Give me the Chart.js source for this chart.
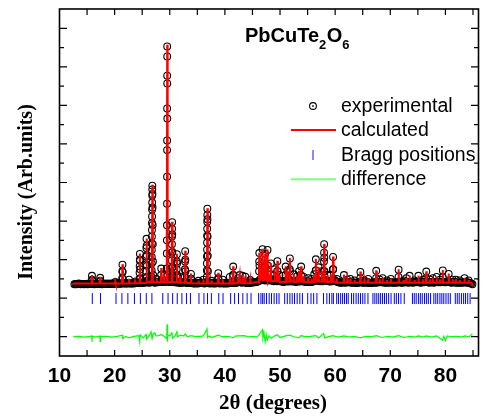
<!DOCTYPE html>
<html lang="en">
<head>
<meta charset="UTF-8">
<title>PbCuTe2O6 Rietveld</title>
<script src="https://cdn.jsdelivr.net/npm/chart.js"></script>
<style>
  html, body { margin: 0; padding: 0; background: #fff; }
</style>
</head>
<body>
<canvas id="xrd" width="485" height="416"></canvas>
<script>
// measured background points, regular 2theta grid
const obsStart = 12.7, obsStep = 0.2;
const obsBackground = [
  1.36,1.37,1.36,1.37,1.38,1.37,1.36,1.37,1.37,1.36,
  1.37,1.37,1.36,1.38,1.37,1.37,1.38,1.37,1.36,1.37,
  1.37,1.38,1.37,1.37,1.38,1.36,1.37,1.38,1.37,1.37,
  1.38,1.37,1.37,1.38,1.37,1.38,1.37,1.38,1.39,1.38,
  1.38,1.37,1.38,1.39,1.38,1.40,1.38,1.38,1.39,1.38,
  1.39,1.38,1.38,1.39,1.38,1.39,1.40,1.39,1.40,1.41,
  1.41,1.39,1.40,1.41,1.40,1.42,1.45,1.41,1.40,1.41,
  1.43,1.44,1.41,1.40,1.41,1.42,1.41,1.42,1.43,1.44,
  1.42,1.43,1.42,1.44,1.46,1.43,1.42,1.42,1.43,1.46,
  1.42,1.41,1.41,1.42,1.40,1.41,1.40,1.40,1.41,1.40,
  1.42,1.41,1.40,1.39,1.40,1.41,1.39,1.39,1.38,1.39,
  1.38,1.39,1.38,1.39,1.40,1.39,1.40,1.39,1.38,1.39,
  1.42,1.41,1.39,1.38,1.39,1.40,1.38,1.39,1.38,1.39,
  1.41,1.39,1.38,1.39,1.40,1.38,1.39,1.38,1.39,1.38,
  1.39,1.40,1.39,1.41,1.40,1.39,1.40,1.40,1.41,1.42,
  1.43,1.41,1.40,1.42,1.41,1.42,1.40,1.39,1.40,1.40,
  1.41,1.40,1.41,1.42,1.41,1.42,1.43,1.44,1.47,1.49,
  1.48,1.50,1.47,1.46,1.50,1.48,1.46,1.49,1.50,1.46,
  1.45,1.44,1.47,1.45,1.44,1.47,1.46,1.44,1.43,1.43,
  1.42,1.44,1.45,1.44,1.43,1.46,1.45,1.43,1.44,1.45,
  1.43,1.42,1.44,1.45,1.43,1.44,1.46,1.44,1.43,1.44,
  1.42,1.43,1.44,1.42,1.43,1.42,1.43,1.44,1.45,1.47,
  1.46,1.45,1.46,1.44,1.45,1.44,1.47,1.48,1.45,1.46,
  1.45,1.44,1.43,1.45,1.44,1.45,1.47,1.44,1.43,1.42,
  1.41,1.40,1.41,1.40,1.42,1.41,1.40,1.41,1.42,1.41,
  1.42,1.40,1.41,1.40,1.41,1.40,1.39,1.40,1.41,1.43,
  1.42,1.40,1.41,1.40,1.41,1.40,1.42,1.40,1.39,1.40,
  1.40,1.41,1.40,1.42,1.40,1.41,1.42,1.41,1.42,1.41,
  1.42,1.40,1.41,1.40,1.41,1.40,1.41,1.42,1.40,1.41,
  1.40,1.41,1.40,1.41,1.43,1.42,1.40,1.41,1.40,1.42,
  1.41,1.42,1.41,1.40,1.42,1.41,1.42,1.40,1.41,1.42,
  1.41,1.42,1.43,1.41,1.40,1.41,1.42,1.41,1.42,1.44,
  1.42,1.41,1.40,1.42,1.41,1.42,1.40,1.41,1.42,1.43,
  1.41,1.42,1.41,1.42,1.43,1.41,1.42,1.41,1.42,1.43,
  1.42,1.41,1.40,1.41,1.42,1.41,1.40,1.41,1.40,1.41,
  1.40,1.41,1.40,1.41,1.42,1.41,1.40,1.41,1.40,1.39,
  1.38,1.36
];

// measured points on the Bragg peaks [2theta, intensity]
const obsPeaks = [
  [15.87,1.47],[15.89,1.58],[15.92,1.47],
  [17.36,1.45],[17.38,1.53],[17.41,1.44],
  [20.12,1.42],
  [21.38,1.52],[21.4,1.7],[21.42,1.87],[21.45,1.68],[21.48,1.5],
  [22.62,1.48],[23.7,1.43],
  [24.5,1.5],[24.52,1.66],[24.54,1.83],[24.56,2.0],[24.58,2.15],[24.6,1.97],[24.63,1.75],[24.66,1.52],
  [25.68,1.52],[25.7,1.7],[25.72,1.88],[25.74,2.08],[25.76,2.3],[25.78,2.54],[25.8,2.36],[25.82,2.12],[25.85,1.84],[25.88,1.56],
  [26.7,1.55],[26.71,1.72],[26.72,1.9],[26.73,2.07],[26.74,2.25],[26.75,2.42],[26.76,2.6],[26.77,2.77],[26.78,2.95],
  [26.79,3.12],[26.8,3.3],[26.81,3.48],[26.82,3.66],[26.83,3.82],[26.84,3.92],[26.86,3.7],[26.88,3.35],[26.9,2.9],
  [26.92,2.4],[26.95,1.95],[26.98,1.6],
  [27.6,1.5],[28.43,1.6],[28.45,1.77],[28.95,1.62],
  [29.44,1.55],[29.46,1.77],[29.47,2.16],[29.48,2.5],[29.49,2.89],[29.5,3.45],[29.51,4.15],[29.515,4.84],
  [29.52,5.09],[29.525,5.92],[29.53,6.77],[29.535,7.53],[29.54,7.27],[29.545,6.57],[29.55,5.66],[29.6,1.6],
  [30.36,1.58],[30.37,1.78],[30.38,1.98],[30.39,2.18],[30.4,2.4],[30.41,2.6],[30.42,2.8],[30.43,2.97],
  [30.45,2.65],[30.47,2.2],[30.5,1.8],[30.53,1.55],
  [31.24,1.55],[31.26,1.75],[31.28,1.95],[31.3,2.14],[31.32,1.9],[31.35,1.6],
  [31.9,1.55],
  [32.73,1.55],[32.75,1.75],[32.77,1.95],[32.8,2.22],[32.82,2.0],[32.85,1.7],
  [33.83,1.5],[33.85,1.63],[33.88,1.5],
  [35.2,1.45],[36.1,1.48],
  [36.72,1.55],[36.73,1.72],[36.74,1.9],[36.75,2.08],[36.76,2.26],[36.77,2.44],[36.78,2.62],[36.79,2.8],
  [36.8,2.98],[36.81,3.16],[36.82,3.32],[36.84,3.05],[36.86,2.6],[36.89,2.1],[36.92,1.7],
  [37.6,1.45],
  [38.78,1.52],[38.8,1.65],[38.83,1.5],
  [39.6,1.48],[40.9,1.55],
  [41.47,1.6],[41.5,1.82],[41.53,1.6],
  [42.4,1.52],[42.7,1.6],[43.2,1.58],[43.7,1.56],[44.6,1.47],
  [46.2,1.7],[46.22,1.95],[46.24,2.17],[46.27,1.85],
  [46.79,1.85],[46.83,2.27],[46.86,1.9],
  [47.27,1.8],[47.3,2.15],[47.33,1.8],
  [47.69,1.85],[47.73,2.25],[47.76,1.85],
  [48.3,1.62],[48.33,1.9],[49.0,1.75],
  [49.48,1.7],[49.52,1.96],[49.55,1.7],
  [49.9,1.6],[51.0,1.6],[51.02,1.82],[51.35,1.7],
  [51.76,1.75],[51.79,2.03],[51.82,1.7],
  [52.5,1.62],[53.1,1.57],[53.45,1.7],[53.8,1.6],[53.83,1.82],[54.3,1.55],
  [55.1,1.52],[55.7,1.5],[56.2,1.62],
  [56.47,1.72],[56.5,2.01],[56.53,1.72],
  [57.0,1.8],[57.6,1.7],
  [57.95,1.7],[57.97,1.95],[57.99,2.18],[58.0,2.4],[58.03,2.05],[58.06,1.7],
  [58.6,1.6],[59.2,1.6],
  [59.59,1.75],[59.62,2.07],[59.65,1.75],
  [60.3,1.5],[61.59,1.6],[62.2,1.48],[62.75,1.5],[63.5,1.46],
  [64.56,1.52],[64.58,1.68],[65.3,1.46],[66.0,1.5],
  [67.43,1.52],[67.45,1.71],[68.1,1.48],[68.6,1.52],[69.4,1.46],[70.1,1.5],
  [71.49,1.55],[71.51,1.74],[72.4,1.46],[72.9,1.52],[73.5,1.58],[74.4,1.46],
  [75.1,1.58],[75.9,1.48],[76.51,1.52],[76.53,1.69],[77.2,1.48],[77.7,1.52],
  [78.4,1.55],[79.0,1.48],[79.5,1.54],[79.52,1.72],[80.59,1.63],[81.3,1.48],
  [81.9,1.48],[82.6,1.46],[83.46,1.52],[84.2,1.46]
];

// calculated profile [2theta, intensity]
const calculated = [
  [12.5,1.38],[15.8,1.38],[15.89,1.6],[15.98,1.38],
  [17.29,1.38],[17.38,1.55],[17.47,1.38],
  [20.04,1.38],[20.12,1.43],[20.2,1.38],
  [21.33,1.38],[21.42,1.88],[21.51,1.38],
  [22.54,1.38],[22.62,1.5],[22.7,1.38],
  [23.63,1.39],[23.7,1.44],[23.77,1.39],
  [24.49,1.39],[24.58,2.16],[24.67,1.39],
  [25.69,1.4],[25.78,2.55],[25.87,1.41],
  [26.3,1.41],[26.36,1.46],[26.42,1.41],
  [26.75,1.41],[26.84,3.94],[26.93,1.42],
  [27.52,1.41],[27.6,1.51],[27.68,1.41],
  [28.37,1.41],[28.45,1.78],[28.53,1.41],
  [28.87,1.41],[28.95,1.62],[29.03,1.42],
  [29.45,1.42],[29.535,7.57],[29.62,1.42],
  [30.34,1.42],[30.43,2.98],[30.52,1.42],
  [31.21,1.41],[31.3,2.15],[31.39,1.41],
  [31.83,1.4],[31.9,1.56],[31.97,1.4],
  [32.71,1.4],[32.8,2.23],[32.89,1.4],
  [33.77,1.39],[33.85,1.64],[33.93,1.39],
  [35.13,1.38],[35.2,1.46],[35.27,1.38],
  [36.03,1.38],[36.1,1.49],[36.17,1.38],
  [36.73,1.38],[36.82,3.33],[36.91,1.39],
  [37.53,1.38],[37.6,1.46],[37.67,1.38],
  [38.72,1.38],[38.8,1.66],[38.88,1.38],
  [39.53,1.38],[39.6,1.49],[39.67,1.38],
  [40.83,1.38],[40.9,1.56],[40.97,1.38],
  [41.42,1.38],[41.5,1.83],[41.58,1.39],
  [42.33,1.39],[42.4,1.53],[42.5,1.4],[42.7,1.61],[42.8,1.4],
  [43.12,1.39],[43.2,1.59],[43.28,1.39],
  [43.63,1.39],[43.7,1.57],[43.77,1.39],
  [44.53,1.39],[44.6,1.48],[44.67,1.39],
  [45.5,1.41],
  [46.15,1.42],[46.24,2.18],[46.33,1.45],[46.5,1.5],[46.6,1.6],[46.7,1.48],
  [46.83,2.28],[46.92,1.46],[47.21,1.48],[47.3,2.16],[47.4,1.5],[47.5,1.48],
  [47.73,2.26],[47.82,1.46],[48.0,1.55],[48.1,1.46],[48.25,1.46],[48.33,1.91],
  [48.42,1.44],[48.6,1.45],[48.92,1.44],[49.0,1.76],[49.08,1.44],[49.43,1.44],
  [49.52,1.97],[49.61,1.44],[49.83,1.43],[49.9,1.61],[49.97,1.42],
  [50.5,1.42],
  [50.94,1.42],[51.02,1.83],[51.1,1.43],[51.28,1.43],[51.35,1.71],[51.42,1.43],
  [51.7,1.43],[51.79,2.04],[51.88,1.43],[52.1,1.46],[52.2,1.43],[52.43,1.43],
  [52.5,1.63],[52.57,1.42],
  [53.03,1.42],[53.1,1.58],[53.17,1.43],[53.38,1.43],[53.45,1.71],[53.52,1.44],
  [53.75,1.44],[53.83,1.83],[53.91,1.43],[54.23,1.42],[54.3,1.56],[54.37,1.42],
  [55.03,1.41],[55.1,1.53],[55.17,1.41],[55.63,1.41],[55.7,1.51],[55.77,1.41],
  [56.13,1.42],[56.2,1.63],[56.27,1.43],[56.42,1.43],[56.5,2.02],[56.58,1.43],
  [56.93,1.43],[57.0,1.81],[57.07,1.43],[57.53,1.43],[57.6,1.71],[57.67,1.43],
  [57.91,1.43],[58.0,2.41],[58.09,1.43],[58.3,1.46],[58.4,1.42],
  [58.53,1.42],[58.6,1.61],[58.67,1.42],[59.13,1.42],[59.2,1.61],[59.27,1.43],
  [59.53,1.43],[59.62,2.08],[59.71,1.42],
  [60.23,1.4],[60.3,1.51],[60.37,1.4],
  [61.51,1.4],[61.59,1.61],[61.67,1.4],
  [62.13,1.4],[62.2,1.49],[62.27,1.4],
  [62.68,1.4],[62.75,1.51],[62.82,1.4],
  [63.43,1.4],[63.5,1.47],[63.57,1.4],
  [64.5,1.4],[64.58,1.69],[64.66,1.4],
  [65.23,1.4],[65.3,1.47],[65.37,1.4],
  [65.93,1.4],[66.0,1.51],[66.07,1.4],
  [67.37,1.4],[67.45,1.72],[67.53,1.4],
  [68.03,1.4],[68.1,1.49],[68.17,1.4],
  [68.53,1.4],[68.6,1.53],[68.67,1.4],
  [69.33,1.4],[69.4,1.47],[69.47,1.4],
  [70.03,1.4],[70.1,1.51],[70.17,1.4],
  [71.43,1.4],[71.51,1.75],[71.59,1.4],
  [72.33,1.4],[72.4,1.47],[72.47,1.4],
  [72.83,1.4],[72.9,1.53],[72.97,1.4],
  [73.43,1.4],[73.5,1.59],[73.57,1.4],
  [74.33,1.4],[74.4,1.47],[74.47,1.4],
  [75.03,1.4],[75.1,1.59],[75.17,1.4],
  [75.83,1.4],[75.9,1.49],[75.97,1.4],
  [76.45,1.4],[76.53,1.7],[76.61,1.4],
  [77.13,1.4],[77.2,1.49],[77.27,1.4],
  [77.63,1.4],[77.7,1.53],[77.77,1.4],
  [78.33,1.4],[78.4,1.56],[78.47,1.4],
  [78.93,1.4],[79.0,1.49],[79.07,1.4],
  [79.44,1.4],[79.52,1.73],[79.6,1.4],
  [80.51,1.4],[80.59,1.64],[80.67,1.4],
  [81.23,1.4],[81.3,1.49],[81.37,1.4],
  [81.83,1.4],[81.9,1.49],[81.97,1.4],
  [82.53,1.4],[82.6,1.47],[82.67,1.4],
  [83.39,1.4],[83.46,1.53],[83.53,1.4],
  [84.13,1.4],[84.2,1.47],[84.27,1.4],
  [84.7,1.4],[84.85,1.37],[84.9,1.31]
];

// obs - calc
const difference = [
  [12.5,0],[13.5,0.01],[14.5,-0.01],[15.5,0.01],[15.85,0.02],[15.89,-0.13],[15.95,0.01],
  [16.6,-0.01],[17.3,0.02],[17.38,-0.12],[17.45,0.01],[18.5,0.01],[19.5,-0.01],[20.5,0.01],
  [21.4,0.04],[21.45,-0.05],[22.0,0.01],[22.6,-0.03],[23.5,0.01],[24.4,0.03],[24.55,-0.13],
  [24.65,0.05],[25.2,-0.03],[25.7,0.06],[25.8,-0.06],[26.3,0.04],[26.6,0.13],[26.8,-0.05],
  [27.0,0.08],[27.3,0.1],[27.5,0.02],[28.0,0.03],[28.5,0.06],[28.9,0.02],[29.45,-0.05],
  [29.5,0.32],[29.56,-0.13],[29.65,0.05],[30.0,0.02],[30.4,0.1],[30.5,-0.04],[31.0,0.03],
  [31.3,0.13],[31.4,0.0],[31.9,0.04],[32.5,0.02],[32.8,0.07],[33.2,0.0],[33.8,0.03],
  [34.5,0.01],[35.5,0.01],[36.1,0.02],[36.75,0.2],[36.85,-0.02],[37.2,0.02],[37.6,-0.02],
  [38.2,0.01],[38.8,0.04],[39.5,0.0],[40.3,0.01],[41.0,0.0],[41.5,-0.03],[42.0,0.02],
  [42.7,0.02],[43.5,0.03],[44.3,0.0],[45.0,0.01],[45.8,-0.01],[46.2,0.05],[46.8,0.18],
  [46.9,-0.04],[47.1,0.1],[47.3,-0.13],[47.5,0.06],[47.7,-0.08],[48.0,0.03],[48.4,-0.04],
  [49.0,0.02],[49.5,0.05],[50.0,-0.02],[51.0,0.02],[51.8,0.04],[52.5,0.0],[53.5,-0.03],
  [53.8,0.03],[54.5,0.0],[55.5,0.01],[56.5,0.03],[57.0,-0.03],[57.9,0.08],[58.1,-0.03],
  [59.0,0.01],[59.6,0.03],[60.5,-0.01],[61.6,0.02],[62.5,-0.01],[63.5,0.01],[64.6,-0.03],
  [65.5,0.01],[66.5,0.0],[67.5,0.03],[68.5,-0.02],[69.5,0.01],[70.5,-0.01],[71.5,0.03],
  [72.5,-0.02],[73.5,0.01],[74.5,-0.01],[75.1,0.02],[76.0,-0.01],[76.5,0.02],[77.5,-0.01],
  [78.4,0.02],[79.5,-0.09],[79.7,0.01],[80.0,-0.1],[80.3,0.02],[81.0,0.0],[82.0,0.01],
  [83.0,-0.01],[83.5,0.02],[84.3,0.0],[84.9,0.07]
];

const braggPositions = [
  15.95, 17.44, 20.25, 21.32, 22.4, 23.59, 24.67, 25.74, 26.76,
  28.73, 29.69, 30.52, 31.36, 32.2, 33.03, 33.75,
  35.3, 36.2, 36.85, 37.55, 38.89, 39.66,
  41.04, 41.76, 42.47, 43.25, 44.03, 44.74,
  46.12, 46.54, 46.85, 47.13, 47.55, 48.03, 48.45, 48.93, 49.4, 49.82,
  50.84, 51.32, 51.79, 52.21, 52.63, 53.11, 53.59, 54.06,
  55.02, 55.62, 56.1, 56.69, 57.89, 58.49, 58.96, 59.4, 59.68,
  60.28, 60.6, 61.0, 61.35, 61.7, 62.05, 62.37,
  62.97, 63.35, 63.8, 64.2, 64.6, 65.0, 65.4, 65.95,
  66.85, 67.2, 67.55, 67.9, 68.25, 68.6, 68.95, 69.3, 69.7, 70.14,
  70.73, 71.1, 71.5, 71.93, 72.53,
  74.02, 74.35, 74.7, 75.1, 75.45, 75.8, 76.2, 76.55, 76.9, 77.31,
  77.9, 78.25, 78.6, 79.0, 79.35, 79.7, 80.1, 80.5, 80.89,
  81.79, 82.15, 82.5, 82.9, 83.3, 83.65, 84.05, 84.48
];
const braggLevel = 0.99;

const xTickLabels = [10, 20, 30, 40, 50, 60, 70, 80];
const xTicks = [15, 20, 25, 30, 35, 40, 45, 50, 55, 60, 65, 70, 75, 80, 85];
const yTicks = [0, 0.5, 1, 1.5, 2, 2.5, 3, 3.5, 4, 4.5, 5, 5.5, 6, 6.5, 7, 7.5, 8];
const legendItems = ['experimental', 'calculated', 'Bragg positions', 'difference'];

const toXY = p => ({ x: p[0], y: p[1] });
const observedData = obsBackground.map((v, i) => ({ x: obsStart + i * obsStep, y: v }))
  .concat(obsPeaks.map(toXY));

const decor = {
  id: 'decor',
  afterDatasetsDraw(chart) {
    const { ctx, chartArea: a, scales: { x, y } } = chart;
    ctx.save();
    // frame and inward ticks
    ctx.strokeStyle = '#000';
    ctx.lineWidth = 1.6;
    ctx.strokeRect(a.left, a.top, a.right - a.left, a.bottom - a.top);
    ctx.lineWidth = 1.2;
    ctx.beginPath();
    xTicks.forEach(v => {
      const px = x.getPixelForValue(v);
      ctx.moveTo(px, a.bottom); ctx.lineTo(px, a.bottom - 6);
      ctx.moveTo(px, a.top); ctx.lineTo(px, a.top + 6);
    });
    yTicks.forEach(v => {
      const py = y.getPixelForValue(v);
      const len = Number.isInteger(v) ? 7.5 : 4.5;
      ctx.moveTo(a.left, py); ctx.lineTo(a.left + len, py);
      ctx.moveTo(a.right, py); ctx.lineTo(a.right - len, py);
    });
    ctx.stroke();

    // x tick labels
    ctx.fillStyle = '#000';
    ctx.font = 'bold 21px "Liberation Sans", Arial, sans-serif';
    ctx.textAlign = 'center';
    ctx.textBaseline = 'alphabetic';
    xTickLabels.forEach(v => ctx.fillText(String(v), x.getPixelForValue(v), 382));

    // axis titles
    ctx.font = 'bold 21px "Liberation Serif", "Times New Roman", serif';
    ctx.fillText('2\u03b8 (degrees)', 273, 409);
    ctx.save();
    ctx.translate(27, 192);
    ctx.rotate(-Math.PI / 2);
    ctx.textBaseline = 'middle';
    ctx.font = 'bold 20px "Liberation Serif", "Times New Roman", serif';
    ctx.fillText('Intensity (Arb.units)', 0, 0);
    ctx.restore();

    // compound label
    ctx.textAlign = 'left';
    let tx = 245;
    const parts = [['PbCuTe', false], ['2', true], ['O', false], ['6', true]];
    parts.forEach(([s, sub]) => {
      ctx.font = sub ? 'bold 13px "Liberation Sans", Arial, sans-serif'
                     : 'bold 20px "Liberation Sans", Arial, sans-serif';
      ctx.fillText(s, tx, sub ? 49 : 41.5);
      tx += ctx.measureText(s).width + (sub ? 0.5 : 0);
    });

    // legend
    const lx = 291, rx = 336, sx = 313, textX = 341;
    const base = [111.5, 136, 160.5, 185];
    ctx.font = '19.5px "Liberation Sans", Arial, sans-serif';
    legendItems.forEach((t, i) => ctx.fillText(t, textX, base[i]));
    ctx.lineWidth = 1.1;
    ctx.strokeStyle = '#000';
    ctx.beginPath(); ctx.arc(sx, 106, 3.4, 0, Math.PI * 2); ctx.stroke();
    ctx.beginPath(); ctx.arc(sx, 106, 1, 0, Math.PI * 2); ctx.fillStyle = '#333'; ctx.fill();
    ctx.strokeStyle = '#ff0000'; ctx.lineWidth = 2;
    ctx.beginPath(); ctx.moveTo(lx, 130); ctx.lineTo(rx, 130); ctx.stroke();
    ctx.strokeStyle = '#3b3bff'; ctx.lineWidth = 1.2;
    ctx.beginPath(); ctx.moveTo(sx, 150); ctx.lineTo(sx, 160); ctx.stroke();
    ctx.strokeStyle = '#7dff7d'; ctx.lineWidth = 2;
    ctx.beginPath(); ctx.moveTo(lx, 179.3); ctx.lineTo(rx, 179.3); ctx.stroke();
    ctx.restore();
  }
};

new Chart(document.getElementById('xrd'), {
  type: 'scatter',
  data: {
    datasets: [
      {
        label: 'calculated',
        data: calculated.map(toXY),
        showLine: true,
        borderColor: '#ff0000',
        borderWidth: 2,
        pointRadius: 0,
        order: 1
      },
      {
        label: 'Bragg positions',
        data: braggPositions.map(v => ({ x: v, y: braggLevel })),
        pointStyle: 'line',
        pointRotation: 90,
        pointRadius: 5.5,
        pointBorderColor: '#0000ff',
        pointBorderWidth: 1,
        order: 2
      },
      {
        label: 'difference',
        data: difference.map(toXY),
        showLine: true,
        borderColor: '#00ff00',
        borderWidth: 1.2,
        pointRadius: 0,
        order: 2
      },
      {
        label: 'experimental',
        data: observedData,
        pointRadius: 3.4,
        pointBorderWidth: 1.1,
        pointBorderColor: '#000',
        pointBackgroundColor: 'rgba(0,0,0,0)',
        order: 3
      }
    ]
  },
  options: {
    responsive: false,
    animation: false,
    layout: { padding: { left: 59.5, right: 1.5, top: 9, bottom: 60 } },
    plugins: { legend: { display: false }, tooltip: { enabled: false } },
    scales: {
      x: { type: 'linear', min: 10, max: 86, display: false },
      y: { type: 'linear', min: -0.5, max: 8.5, display: false }
    }
  },
  plugins: [decor]
});
</script>
</body>
</html>
